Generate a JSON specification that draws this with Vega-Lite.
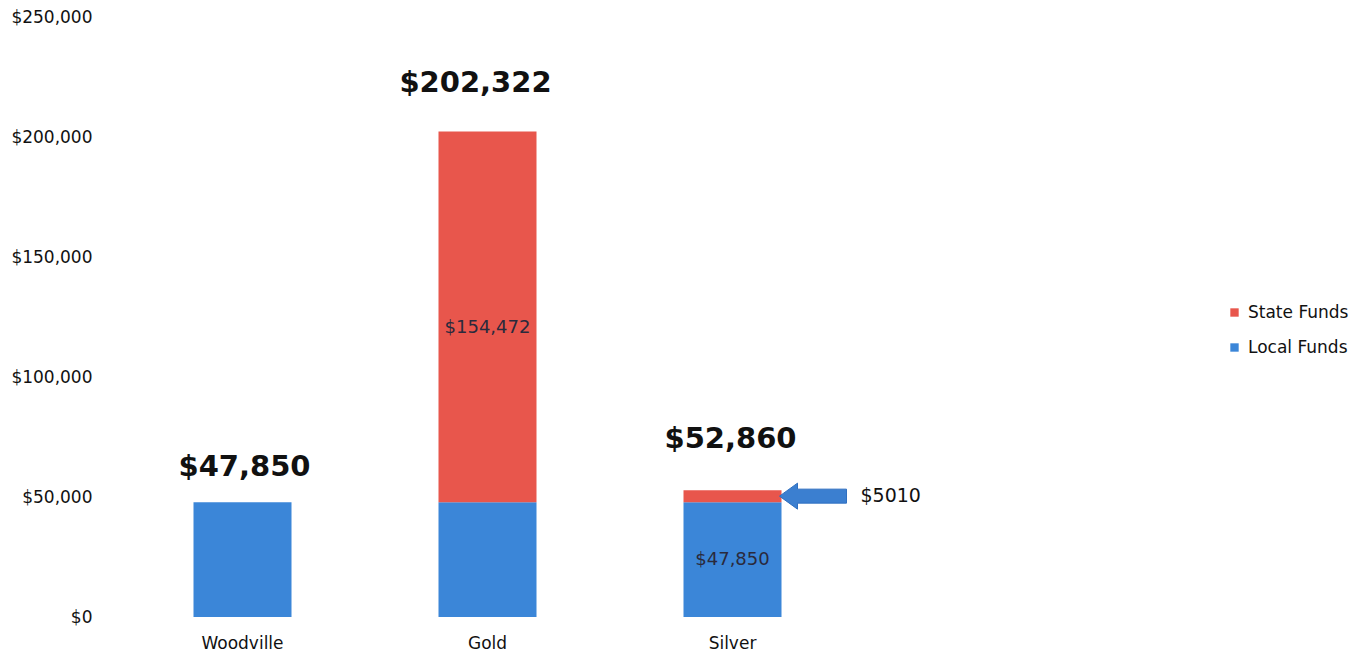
{
  "$schema": "https://vega.github.io/schema/vega-lite/v6.json",
  "autosize": {"type": "none"},
  "width": 980,
  "height": 600,
  "padding": {"left": 120, "top": 17, "right": 266, "bottom": 36},
  "background": "white",
  "config": {
    "view": {"stroke": null},
    "font": "DejaVu Sans",
    "axis": {"labelFont": "DejaVu Sans", "labelColor": "#111", "domain": false, "ticks": false, "grid": false, "title": null},
    "legend": {"labelFont": "DejaVu Sans"}
  },
  "datasets": {
    "funds": [
      {"category": "Woodville", "fund": "Local Funds", "amount": 47850},
      {"category": "Gold", "fund": "Local Funds", "amount": 47850},
      {"category": "Gold", "fund": "State Funds", "amount": 154472},
      {"category": "Silver", "fund": "Local Funds", "amount": 47850},
      {"category": "Silver", "fund": "State Funds", "amount": 5010}
    ],
    "totals": [
      {"category": "Woodville", "total": 47850, "label": "$47,850"},
      {"category": "Gold", "total": 202322, "label": "$202,322"},
      {"category": "Silver", "total": 52860, "label": "$52,860"}
    ],
    "inner": [
      {"category": "Gold", "mid": 120400, "label": "$154,472"},
      {"category": "Silver", "mid": 23900, "label": "$47,850"}
    ],
    "note": [
      {"category": "Silver", "value": 50355, "label": "$5010"}
    ]
  },
  "encoding": {
    "x": {
      "field": "category",
      "type": "nominal",
      "scale": {"domain": ["Woodville", "Gold", "Silver", " "], "paddingInner": 0.6, "paddingOuter": 0.3},
      "axis": {"labelAngle": 0, "labelFontSize": 17, "labelPadding": 18}
    }
  },
  "layer": [
    {
      "data": {"name": "funds"},
      "mark": {"type": "bar"},
      "encoding": {
        "y": {
          "field": "amount",
          "type": "quantitative",
          "stack": "zero",
          "scale": {"domain": [0, 250000], "nice": false},
          "axis": {"values": [0, 50000, 100000, 150000, 200000, 250000], "format": "$,.0f", "labelFontSize": 17, "labelPadding": 28}
        },
        "color": {
          "field": "fund",
          "type": "nominal",
          "scale": {"domain": ["State Funds", "Local Funds"], "range": ["#e8564c", "#3b86d8"]},
          "legend": {
            "title": null,
            "orient": "none",
            "legendX": 1106,
            "legendY": 287,
            "symbolType": "square",
            "symbolSize": 70,
            "labelFontSize": 17,
            "labelColor": "#111",
            "rowPadding": 17,
            "labelOffset": 5
          }
        },
        "order": {"field": "fund", "sort": "ascending"}
      }
    },
    {
      "data": {"name": "totals"},
      "transform": [{"filter": "datum.category === 'Woodville'"}],
      "mark": {"type": "text", "fontSize": 29, "fontWeight": "bold", "color": "#111", "baseline": "alphabetic", "dy": -26, "dx": 2},
      "encoding": {
        "y": {"field": "total", "type": "quantitative", "scale": {"domain": [0, 250000], "nice": false}},
        "text": {"field": "label"}
      }
    },
    {
      "data": {"name": "totals"},
      "transform": [{"filter": "datum.category === 'Gold'"}],
      "mark": {"type": "text", "fontSize": 29, "fontWeight": "bold", "color": "#111", "baseline": "alphabetic", "dy": -39, "dx": -12},
      "encoding": {
        "y": {"field": "total", "type": "quantitative", "scale": {"domain": [0, 250000], "nice": false}},
        "text": {"field": "label"}
      }
    },
    {
      "data": {"name": "totals"},
      "transform": [{"filter": "datum.category === 'Silver'"}],
      "mark": {"type": "text", "fontSize": 29, "fontWeight": "bold", "color": "#111", "baseline": "alphabetic", "dy": -42, "dx": -2},
      "encoding": {
        "y": {"field": "total", "type": "quantitative", "scale": {"domain": [0, 250000], "nice": false}},
        "text": {"field": "label"}
      }
    },
    {
      "data": {"name": "inner"},
      "mark": {"type": "text", "fontSize": 18, "color": "#2a2a3c", "baseline": "middle"},
      "encoding": {
        "y": {"field": "mid", "type": "quantitative", "scale": {"domain": [0, 250000], "nice": false}},
        "text": {"field": "label"}
      }
    },
    {
      "data": {"name": "note"},
      "mark": {"type": "point", "filled": true, "shape": "M-34,0L-16,-13L-16,-7L33,-7L33,7L-16,7L-16,13Z", "size": 4, "color": "#3b7fd0", "opacity": 1, "stroke": "#2f6fc0", "strokeWidth": 1, "xOffset": 81},
      "encoding": {
        "y": {"field": "value", "type": "quantitative", "scale": {"domain": [0, 250000], "nice": false}}
      }
    },
    {
      "data": {"name": "note"},
      "mark": {"type": "text", "fontSize": 19, "color": "#111", "align": "left", "baseline": "middle", "dx": 128},
      "encoding": {
        "y": {"field": "value", "type": "quantitative", "scale": {"domain": [0, 250000], "nice": false}},
        "text": {"field": "label"}
      }
    }
  ]
}
